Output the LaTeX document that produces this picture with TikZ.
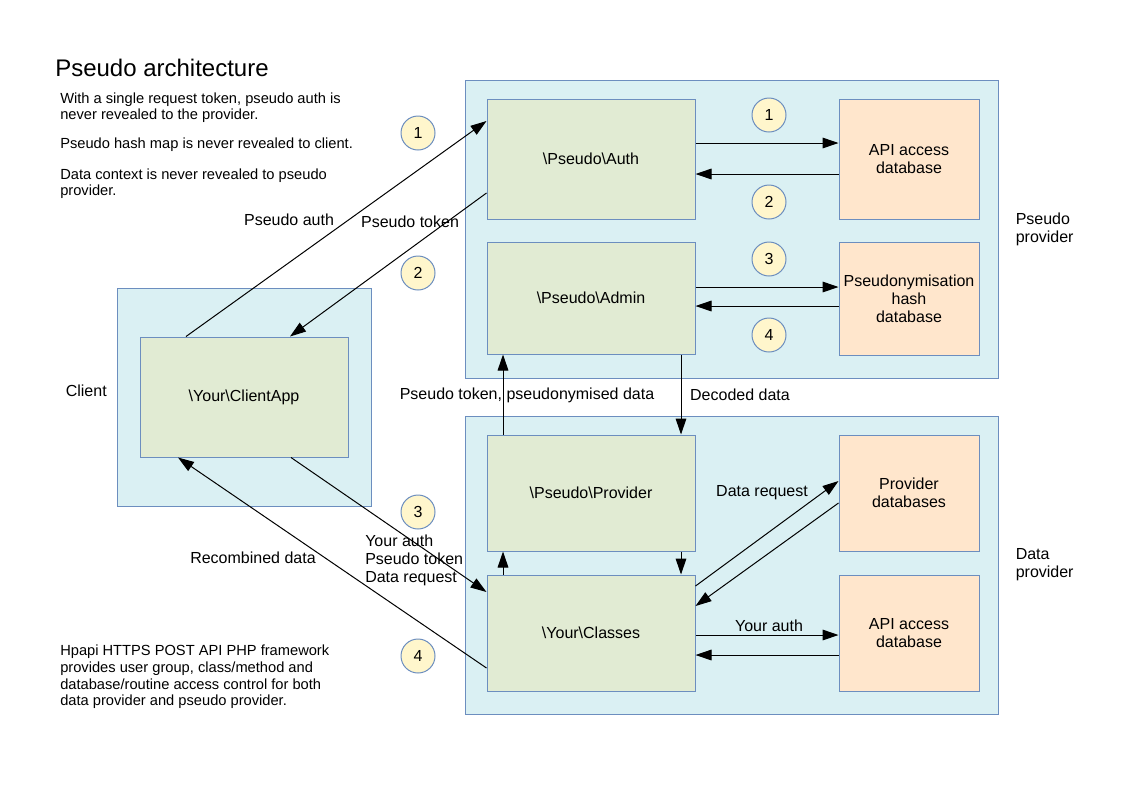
\documentclass[tikz,border=0pt]{standalone}
\usepackage{fontspec}
\setmainfont{Liberation Sans}
\usetikzlibrary{arrows.meta,positioning}

\definecolor{zonefill}{HTML}{DAF0F3}
\definecolor{codefill}{HTML}{E1EBD3}
\definecolor{dbfill}{HTML}{FFE6CC}
\definecolor{numfill}{HTML}{FFF6CC}
\definecolor{edgeblue}{HTML}{6C8EBF}
\newcommand{\bsl}{\textbackslash}

\begin{document}
\begin{tikzpicture}[x=0.75pt,y=-0.75pt,
    zone/.style={draw=edgeblue,fill=zonefill,line width=0.75pt,inner sep=0pt},
    codebox/.style={draw=edgeblue,fill=codefill,line width=0.75pt,inner sep=0pt,
      minimum width=156pt,align=center,font=\fontsize{12}{13.5}\selectfont},
    dbbox/.style={draw=edgeblue,fill=dbfill,line width=0.75pt,inner sep=0pt,
      minimum width=105pt,align=center,font=\fontsize{12}{13.5}\selectfont},
    stepnum/.style={circle,draw=edgeblue,fill=numfill,line width=0.75pt,
      minimum size=25.5pt,inner sep=0pt,font=\fontsize{12}{13.5}\selectfont},
    lbl/.style={inner sep=0pt,align=left,font=\fontsize{12}{13.5}\selectfont},
    note/.style={inner sep=0pt,anchor=west,align=left,font=\fontsize{11}{12}\selectfont},
    flow/.style={line width=0.75pt,-{Triangle[length=12pt,width=8pt]}}]
  \useasboundingbox (0,0) rectangle (1123,794);

  % containers
  \node[zone,minimum width=399.75pt,minimum height=223.5pt] (ppro) at (731.5,229) {};
  \node[zone,minimum width=399.75pt,minimum height=223.5pt] (dpro) at (731.5,565) {};
  \node[zone,minimum width=190.5pt,minimum height=163.5pt] (client) at (244,397) {};

  % classes
  \node[codebox,minimum height=90pt] (auth) at (591,159) {\bsl Pseudo\bsl Auth};
  \node[codebox,minimum height=84pt] (admin) at (591,298) {\bsl Pseudo\bsl Admin};
  \node[codebox,minimum height=90pt] (app) at (244,397) {\bsl Your\bsl ClientApp};
  \node[codebox,minimum height=87pt] (prov) at (591,493) {\bsl Pseudo\bsl Provider};
  \node[codebox,minimum height=87pt] (yours) at (591,633) {\bsl Your\bsl Classes};

  % databases
  \node[dbbox,minimum height=90pt] (apidbA) at (909,159) {API access\\database};
  \node[dbbox,minimum height=84.75pt] (hashdb) at (909,298.5) {Pseudonymisation\\hash\\database};
  \node[dbbox,minimum height=87pt] (provdb) at (909,493) {Provider\\databases};
  \node[dbbox,minimum height=87pt] (apidbB) at (909,633) {API access\\database};

  % step numbers
  \node[stepnum] (n1) at (418,133) {1};
  \node[stepnum] (n2) at (418,273) {2};
  \node[stepnum] (n3) at (418,512) {3};
  \node[stepnum] (n4) at (418,656) {4};
  \node[stepnum] (m1) at (769,115) {1};
  \node[stepnum] (m2) at (769,202) {2};
  \node[stepnum] (m3) at (769,259) {3};
  \node[stepnum] (m4) at (769,335) {4};

  % connectors
  \draw[flow] (186,0 |- app.north) -- (auth.west |- 0,121);
  \draw[flow] (auth.west |- 0,193) -- (290,0 |- app.north);
  \draw[flow] (auth.east |- 0,143) -- (apidbA.west |- 0,143);
  \draw[flow] (apidbA.west |- 0,174) -- (auth.east |- 0,174);
  \draw[flow] (admin.east |- 0,287) -- (hashdb.west |- 0,287);
  \draw[flow] (hashdb.west |- 0,306) -- (admin.east |- 0,306);
  \draw[flow] (503,0 |- prov.north) -- (503,0 |- admin.south);
  \draw[flow] (681,0 |- admin.south) -- (681,0 |- prov.north);
  \draw[flow] (503,0 |- yours.north) -- (503,0 |- prov.south);
  \draw[flow] (681,0 |- prov.south) -- (681,0 |- yours.north);
  \draw[flow] (291,0 |- app.south) -- (yours.west |- 0,592);
  \draw[flow] (yours.west |- 0,668) -- (178,0 |- app.south);
  \draw[flow] (yours.east |- 0,586) -- (provdb.west |- 0,481);
  \draw[flow] (provdb.west |- 0,503) -- (yours.east |- 0,606);
  \draw[flow] (yours.east |- 0,635) -- (apidbB.west |- 0,635);
  \draw[flow] (apidbB.west |- 0,655) -- (yours.east |- 0,655);

  % labels
  \node[lbl] (lauth) at (289,220) {Pseudo auth};
  \node[lbl] (ltok) at (410,222) {Pseudo token};
  \node[lbl,anchor=east] (lclient) at (107,391) {Client};
  \node[lbl] (lpsd) at (527,395) {Pseudo token, pseudonymised data};
  \node[lbl] (ldec) at (740,395) {Decoded data};
  \node[lbl,anchor=west,right=12.75pt of ppro] (lppro) {Pseudo\\provider};
  \node[lbl,anchor=west,right=12.75pt of dpro] (ldpro) {Data\\provider};
  \node[lbl,anchor=west] (lreq) at (365,560) {Your auth\\Pseudo token\\Data request};
  \node[lbl] (lrec) at (253,558) {Recombined data};
  \node[lbl] (ldreq) at (762,493) {Data request};
  \node[lbl] (lyauth) at (769,626) {Your auth};

  % notes
  \node[inner sep=0pt,anchor=west,font=\fontsize{18}{20}\selectfont] (title) at (55,68) {Pseudo architecture};
  \node[note] (t1) at (60,108) {With a single request token, pseudo auth is\\never revealed to the provider.};
  \node[note] (t2) at (60,145) {Pseudo hash map is never revealed to client.};
  \node[note] (t3) at (60,184) {Data context is never revealed to pseudo\\provider.};
  \node[note,font=\fontsize{11}{12.5}\selectfont] (t4) at (60,677) {Hpapi HTTPS POST API PHP framework\\provides user group, class/method and\\database/routine access control for both\\data provider and pseudo provider.};
\end{tikzpicture}
\end{document}
